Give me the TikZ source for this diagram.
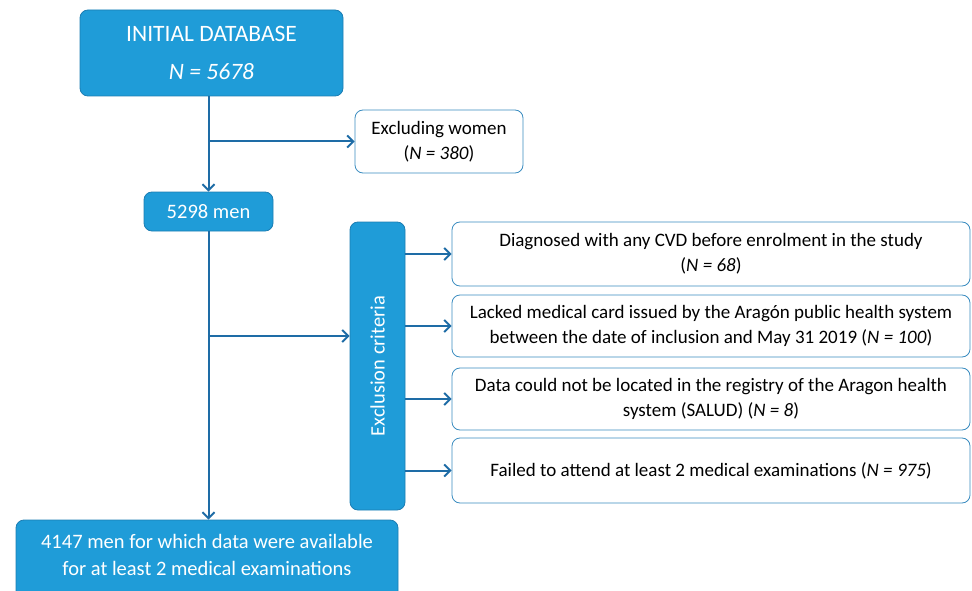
\documentclass[tikz,border=0pt]{standalone}
\usepackage{fontspec}
\setmainfont{Carlito}
\usetikzlibrary{arrows.meta}
\definecolor{boxfill}{HTML}{1F9CD8}
\definecolor{boxline}{HTML}{1B7DB3}
\definecolor{arrowc}{HTML}{1E6CA6}
\definecolor{wline}{HTML}{3A8CC0}
\begin{document}
\begin{tikzpicture}[x=1pt,y=-1pt,
  filled/.style={draw=boxline,fill=boxfill,rounded corners=8pt,line width=0.8pt,text=white,align=center,inner sep=0pt,font=\fontsize{20.5}{27}\selectfont},
  white/.style={draw=wline,fill=white,rounded corners=8pt,line width=0.8pt,text=black,align=center,inner sep=0pt,font=\fontsize{19}{25}\selectfont},
  conn/.style={draw=arrowc,line width=2pt,-{Straight Barb[length=6pt,width=12pt,line width=2pt]}},
  plaintext/.style={text=white,align=center,inner sep=0pt,font=\fontsize{20.5}{27}\selectfont}]
\useasboundingbox (0,0) rectangle (972,591);
\node[filled,minimum width=263pt,minimum height=86pt,font=\fontsize{23.5}{38}\selectfont] (init) at (211.5,53) {INITIAL DATABASE\\\textit{N = 5678}};
\node[white,minimum width=168pt,minimum height=63pt] (women) at (439,141.5) {Excluding women\\(\textit{N = 380})};
\node[filled,minimum width=129pt,minimum height=39pt] (men) at (208.5,211.5) {5298 men};
\node[filled,minimum width=55pt,minimum height=288pt] (excl) at (377.5,366) {};
\node[plaintext,rotate=90] (excltxt) at (excl.center) {Exclusion criteria};
\node[white,minimum width=518pt,minimum height=64pt] (c1) at (711,254) {Diagnosed with any CVD before enrolment in the study\\(\textit{N = 68})};
\node[white,minimum width=518pt,minimum height=62pt] (c2) at (711,326) {Lacked medical card issued by the Aragón public health system\\between the date of inclusion and May 31 2019 (\textit{N = 100})};
\node[white,minimum width=518pt,minimum height=62pt] (c3) at (711,399) {Data could not be located in the registry of the Aragon health\\system (SALUD) (\textit{N = 8})};
\node[white,minimum width=518pt,minimum height=65pt] (c4) at (711,470.5) {Failed to attend at least 2 medical examinations (\textit{N = 975})};
\node[filled,minimum width=382pt,minimum height=84pt] (final) at (207,562) {};
\node[plaintext] (finaltxt) at (207,555) {4147 men for which data were available\\for at least 2 medical examinations};
\coordinate (top) at (init.south -| men.north);
\coordinate (bot) at (final.north -| men.south);
\coordinate (j1) at (men.north |- women.west);
\coordinate (j2) at (208.5,336);
\draw[conn] (top) -- (men.north);
\draw[conn] (j1) -- (women.west);
\draw[conn] (men.south) -- (bot);
\draw[conn] (j2) -- (j2 -| excl.west);
\foreach \c in {c1,c2,c3,c4}{
  \draw[conn] (excl.east |- \c.west) -- (\c.west);
}
\end{tikzpicture}
\end{document}
